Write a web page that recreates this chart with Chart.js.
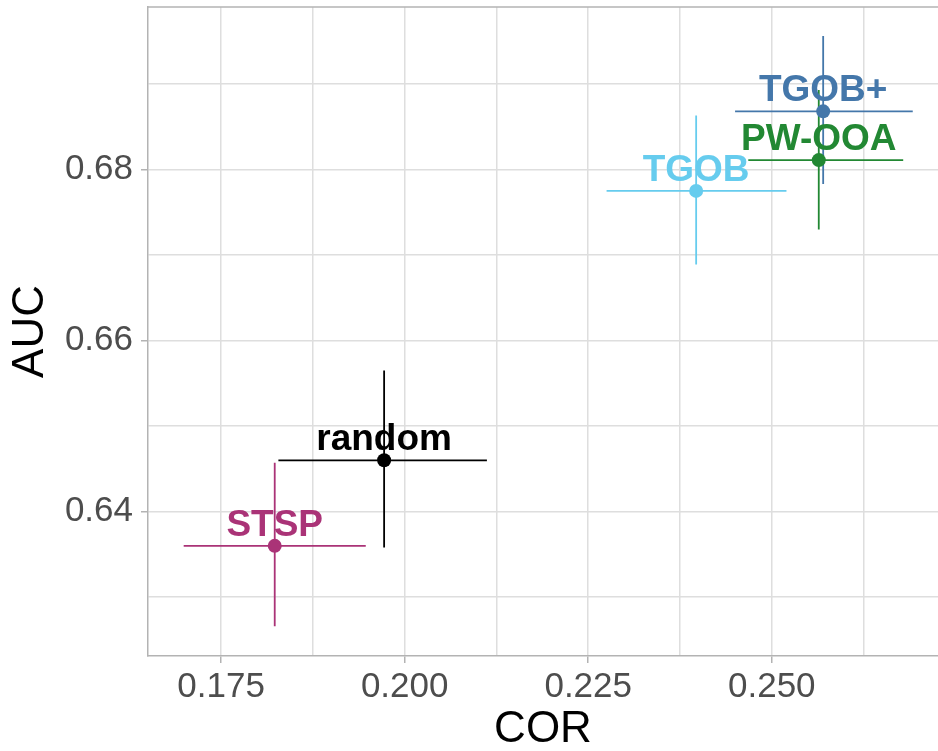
<!DOCTYPE html>
<html>
<head>
<meta charset="utf-8">
<script src="https://cdn.jsdelivr.net/npm/chart.js@4"></script>
<style>
  html, body { margin: 0; padding: 0; background: #ffffff; }
  #wrap { width: 938px; height: 751px; }
</style>
</head>
<body>
<div id="wrap"><canvas id="c" width="938" height="751"></canvas></div>
<script>
// Mean COR / AUC per method with interval bounds on both axes
const methods = ['STSP', 'random', 'TGOB', 'TGOB+', 'PW-OOA'];
const cor   = [0.1823, 0.1972, 0.2397, 0.2570, 0.2564];
const corLo = [0.1699, 0.1828, 0.2275, 0.2450, 0.2468];
const corHi = [0.1947, 0.2112, 0.2520, 0.2692, 0.2679];
const auc   = [0.6360, 0.6460, 0.6775, 0.6868, 0.6811];
const aucLo = [0.6266, 0.6358, 0.6689, 0.6783, 0.6730];
const aucHi = [0.6457, 0.6565, 0.6863, 0.6956, 0.6893];
const colors = ['#AA3377', '#000000', '#66CCEE', '#4477AA', '#228833'];

// Grid positions (major + minor) and the labels shown at the majors
const xTicks = [0.175, 0.1875, 0.200, 0.2125, 0.225, 0.2375, 0.250, 0.2625];
const xTickLabels = ['0.175', '', '0.200', '', '0.225', '', '0.250', ''];
const yTicks = [0.63, 0.64, 0.65, 0.66, 0.67, 0.68, 0.69];
const yTickLabels = ['', '0.64', '', '0.66', '', '0.68', ''];

const FONT = '"Liberation Sans", Arial, sans-serif';
const GRID = '#dedede';
const FRAME = '#b3b3b3';

// Cross-shaped interval bars behind each point
const errorBars = {
  id: 'errorBars',
  beforeDatasetsDraw(chart) {
    const { ctx, scales: { x, y }, chartArea } = chart;
    ctx.save();
    // top edge of the panel frame
    ctx.strokeStyle = FRAME;
    ctx.lineWidth = 1.5;
    ctx.beginPath();
    ctx.moveTo(chartArea.left, chartArea.top);
    ctx.lineTo(chartArea.right, chartArea.top);
    ctx.stroke();
    ctx.lineWidth = 1.8;
    methods.forEach((m, i) => {
      const px = x.getPixelForValue(cor[i]);
      const py = y.getPixelForValue(auc[i]);
      ctx.strokeStyle = colors[i];
      ctx.beginPath();
      ctx.moveTo(x.getPixelForValue(corLo[i]), py);
      ctx.lineTo(x.getPixelForValue(corHi[i]), py);
      ctx.moveTo(px, y.getPixelForValue(aucLo[i]));
      ctx.lineTo(px, y.getPixelForValue(aucHi[i]));
      ctx.stroke();
    });
    ctx.restore();
  }
};

// Method names above their points
const pointLabels = {
  id: 'pointLabels',
  afterDatasetsDraw(chart) {
    const { ctx, scales: { x, y } } = chart;
    ctx.save();
    ctx.font = 'bold 37px ' + FONT;
    ctx.textAlign = 'center';
    ctx.textBaseline = 'alphabetic';
    methods.forEach((m, i) => {
      ctx.fillStyle = colors[i];
      ctx.fillText(m, x.getPixelForValue(cor[i]), y.getPixelForValue(auc[i]) - 10);
    });
    ctx.restore();
  }
};

const datasets = methods.map((m, i) => ({
  label: m,
  data: [{ x: cor[i], y: auc[i] }],
  backgroundColor: colors[i],
  borderColor: colors[i],
  borderWidth: 0,
  pointRadius: 7,
  pointHoverRadius: 7
}));

// keep the panel flush with the canvas edges (no overflow padding for labels)
function noPad(s) {
  s.paddingTop = 0; s.paddingBottom = 0; s.paddingLeft = 0; s.paddingRight = 0;
}

new Chart(document.getElementById('c'), {
  type: 'scatter',
  data: { datasets },
  plugins: [errorBars, pointLabels],
  options: {
    responsive: false,
    animation: false,
    events: [],
    layout: { autoPadding: false, padding: { top: 7, right: 0, bottom: 0, left: 0 } },
    plugins: { legend: { display: false }, tooltip: { enabled: false } },
    scales: {
      x: {
        type: 'linear',
        min: 0.16504,
        max: 0.27264,
        afterBuildTicks: s => { s.ticks = xTicks.map(v => ({ value: v })); },
        afterFit: s => { s.height = 95; noPad(s); },
        ticks: {
          autoSkip: false, maxRotation: 0, minRotation: 0,
          padding: 3,
          color: '#4d4d4d',
          font: { family: FONT, size: 35 },
          callback: (v, i) => xTickLabels[i]
        },
        grid: {
          color: GRID, lineWidth: 1.5,
          tickLength: 7, tickWidth: 1.5,
          tickColor: c => (xTickLabels[c.index] ? FRAME : 'rgba(0,0,0,0)')
        },
        border: { color: FRAME, width: 1.5 },
        title: {
          display: true, text: 'COR', color: '#000000',
          font: { family: FONT, size: 44, lineHeight: 0.95 },
          padding: { top: 0, bottom: 0 }
        }
      },
      y: {
        type: 'linear',
        min: 0.62312,
        max: 0.6990,
        afterBuildTicks: s => { s.ticks = yTicks.map(v => ({ value: v })); },
        afterFit: s => { s.width = 148; noPad(s); },
        ticks: {
          autoSkip: false,
          padding: 8,
          color: '#4d4d4d',
          font: { family: FONT, size: 35 },
          callback: (v, i) => yTickLabels[i]
        },
        grid: {
          color: GRID, lineWidth: 1.5,
          tickLength: 7, tickWidth: 1.5,
          tickColor: c => (yTickLabels[c.index] ? FRAME : 'rgba(0,0,0,0)')
        },
        border: { color: FRAME, width: 1.5 },
        title: {
          display: true, text: 'AUC', color: '#000000',
          font: { family: FONT, size: 44, lineHeight: 0.95 },
          padding: { top: 10, bottom: 0 }
        }
      }
    }
  }
});
</script>
</body>
</html>
